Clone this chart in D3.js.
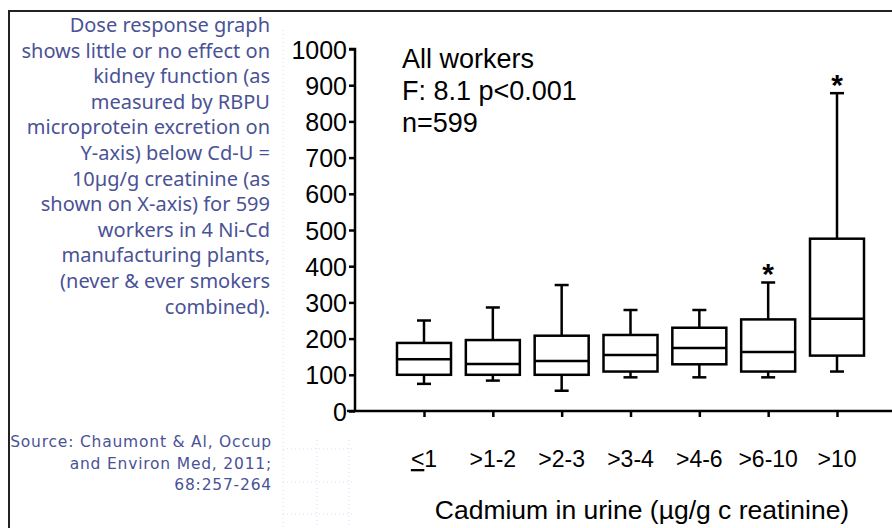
<!DOCTYPE html>
<html><head><meta charset="utf-8">
<script src="https://cdn.jsdelivr.net/npm/d3@7"></script>
<style>
html,body{margin:0;padding:0;background:#fff;}
svg{display:block;}
</style></head>
<body>
<svg id="c" width="892" height="528"></svg>
<script>
// ---- data ----
const categories = ["≤1", ">1-2", ">2-3", ">3-4", ">4-6", ">6-10", ">10"];
const whiskerLow  = [75, 84, 56, 93, 93, 93, 109];
const quartile1   = [100, 100, 100, 109, 129, 109, 153];
const medians     = [143, 130, 138, 155, 174, 163, 255];
const quartile3   = [188, 196, 208, 210, 230, 253, 476];
const whiskerHigh = [250, 286, 348, 279, 279, 355, 878];
const significant = [false, false, false, false, false, true, true];
const yTicks = [0,100,200,300,400,500,600,700,800,900,1000];
const noteLines = ["All workers", "F: 8.1 p<0.001", "n=599"];
const sideText = ["Dose response graph","shows little or no effect  on","kidney function (as","measured by RBPU","microprotein excretion on","Y-axis) below Cd-U =","10µg/g creatinine (as","shown on X-axis) for 599","workers in 4 Ni-Cd","manufacturing plants,","(never & ever smokers","combined)."];
const sourceText = ["Source: Chaumont & Al, Occup","and Environ Med, 2011;","68:257-264"];
const xTitle = "Cadmium in urine (µg/g c reatinine)";

const svg = d3.select("#c");
const W = 892, H = 528;
const y = d3.scaleLinear().domain([0,1000]).range([411,49]);
const x = d3.scalePoint().domain(categories).range([424,837]);
const axisX = 355;
const boxW = 54, capW = 14;
const blue = "#4a5296";

// frame
svg.append("path").attr("d", `M9,${H} L9,11 L${W},11`).attr("fill","none").attr("stroke","#222").attr("stroke-width",2);

// faint dotted grid remnants
const dg = svg.append("g").attr("stroke","#d3dcf4").attr("stroke-width",1).attr("stroke-dasharray","1,3");
dg.append("line").attr("x1",283).attr("x2",283).attr("y1",30).attr("y2",H);
[317,349].forEach(v=>dg.append("line").attr("x1",v).attr("x2",v).attr("y1",440).attr("y2",H));
[449,482,514].forEach(v=>dg.append("line").attr("x1",283).attr("x2",352).attr("y1",v).attr("y2",v));

// side text
sideText.forEach((t,i)=>svg.append("text").attr("text-anchor","end").attr("fill",blue)
  .style("font-family","'Noto Sans', sans-serif").style("font-size","20px")
  .attr("x",270).attr("y",32 + i*25.6).text(t));

sourceText.forEach((t,i)=>svg.append("text").attr("text-anchor","end").attr("fill",blue)
  .style("font-family","'DejaVu Sans', sans-serif").style("font-size","15.5px").style("letter-spacing","0.8px")
  .attr("x",272).attr("y",447 + i*21.5).text(t));

// y axis
const ya = svg.append("g").attr("transform",`translate(${axisX},0)`)
  .call(d3.axisLeft(y).tickValues(yTicks).tickSize(6).tickPadding(2).tickFormat(d3.format("d")));
ya.select(".domain").attr("stroke","#000").attr("stroke-width",2.5).attr("d",`M-6,${y(1000)}H0V${y(0)}`);
ya.selectAll(".tick line").attr("stroke","#000").attr("stroke-width",2.5);
ya.selectAll(".tick text").attr("fill","#000").attr("dy","0.36em")
  .style("font-family","'Liberation Sans', Arial, sans-serif").style("font-size","25px");

// x axis
const xa = svg.append("g").attr("transform",`translate(0,${y(0)})`)
  .call(d3.axisBottom(x).tickSize(6).tickFormat(""));
xa.select(".domain").remove();
xa.selectAll(".tick line").attr("stroke","#000").attr("stroke-width",2.5);
svg.append("line").attr("x1",axisX-8).attr("x2",W).attr("y1",y(0)).attr("y2",y(0))
  .attr("stroke","#000").attr("stroke-width",2.5);

// x tick labels
categories.forEach((c,i)=>{
  const t = svg.append("text").attr("x",x(c)).attr("y",467).attr("text-anchor","middle")
    .style("font-family","'Liberation Sans', Arial, sans-serif").style("font-size","23px").attr("fill","#000");
  if (c.startsWith("≤")) {
    t.append("tspan").style("text-decoration","underline").text("<");
    t.append("tspan").text(c.slice(1));
  } else t.text(c);
});
svg.append("text").attr("x",642).attr("y",519).attr("text-anchor","middle")
  .style("font-family","'Liberation Sans', Arial, sans-serif").style("font-size","26.5px").attr("fill","#000")
  .text(xTitle);

// boxes
const g = svg.append("g").attr("stroke","#000").attr("stroke-width",2.5).attr("fill","none");
categories.forEach((c,i)=>{
  const cx = x(c);
  g.append("line").attr("x1",cx).attr("x2",cx).attr("y1",y(whiskerHigh[i])).attr("y2",y(quartile3[i]));
  g.append("line").attr("x1",cx).attr("x2",cx).attr("y1",y(quartile1[i])).attr("y2",y(whiskerLow[i]));
  g.append("line").attr("x1",cx-capW/2).attr("x2",cx+capW/2).attr("y1",y(whiskerHigh[i])).attr("y2",y(whiskerHigh[i]));
  g.append("line").attr("x1",cx-capW/2).attr("x2",cx+capW/2).attr("y1",y(whiskerLow[i])).attr("y2",y(whiskerLow[i]));
  g.append("rect").attr("x",cx-boxW/2).attr("y",y(quartile3[i])).attr("width",boxW).attr("height",y(quartile1[i])-y(quartile3[i]));
  g.append("line").attr("x1",cx-boxW/2).attr("x2",cx+boxW/2).attr("y1",y(medians[i])).attr("y2",y(medians[i]));
  if (significant[i]) {
    svg.append("text").attr("x",cx).attr("y",y(whiskerHigh[i])+2).attr("text-anchor","middle")
      .style("font-family","'Liberation Sans', Arial, sans-serif").style("font-size","30px").style("font-weight","bold")
      .attr("fill","#000").text("*");
  }
});

// note
noteLines.forEach((t,i)=>svg.append("text").attr("fill","#000")
  .style("font-family","'Liberation Sans', Arial, sans-serif").style("font-size","27px")
  .attr("x",402).attr("y",68 + i*32).text(t));
</script>
</body></html>
